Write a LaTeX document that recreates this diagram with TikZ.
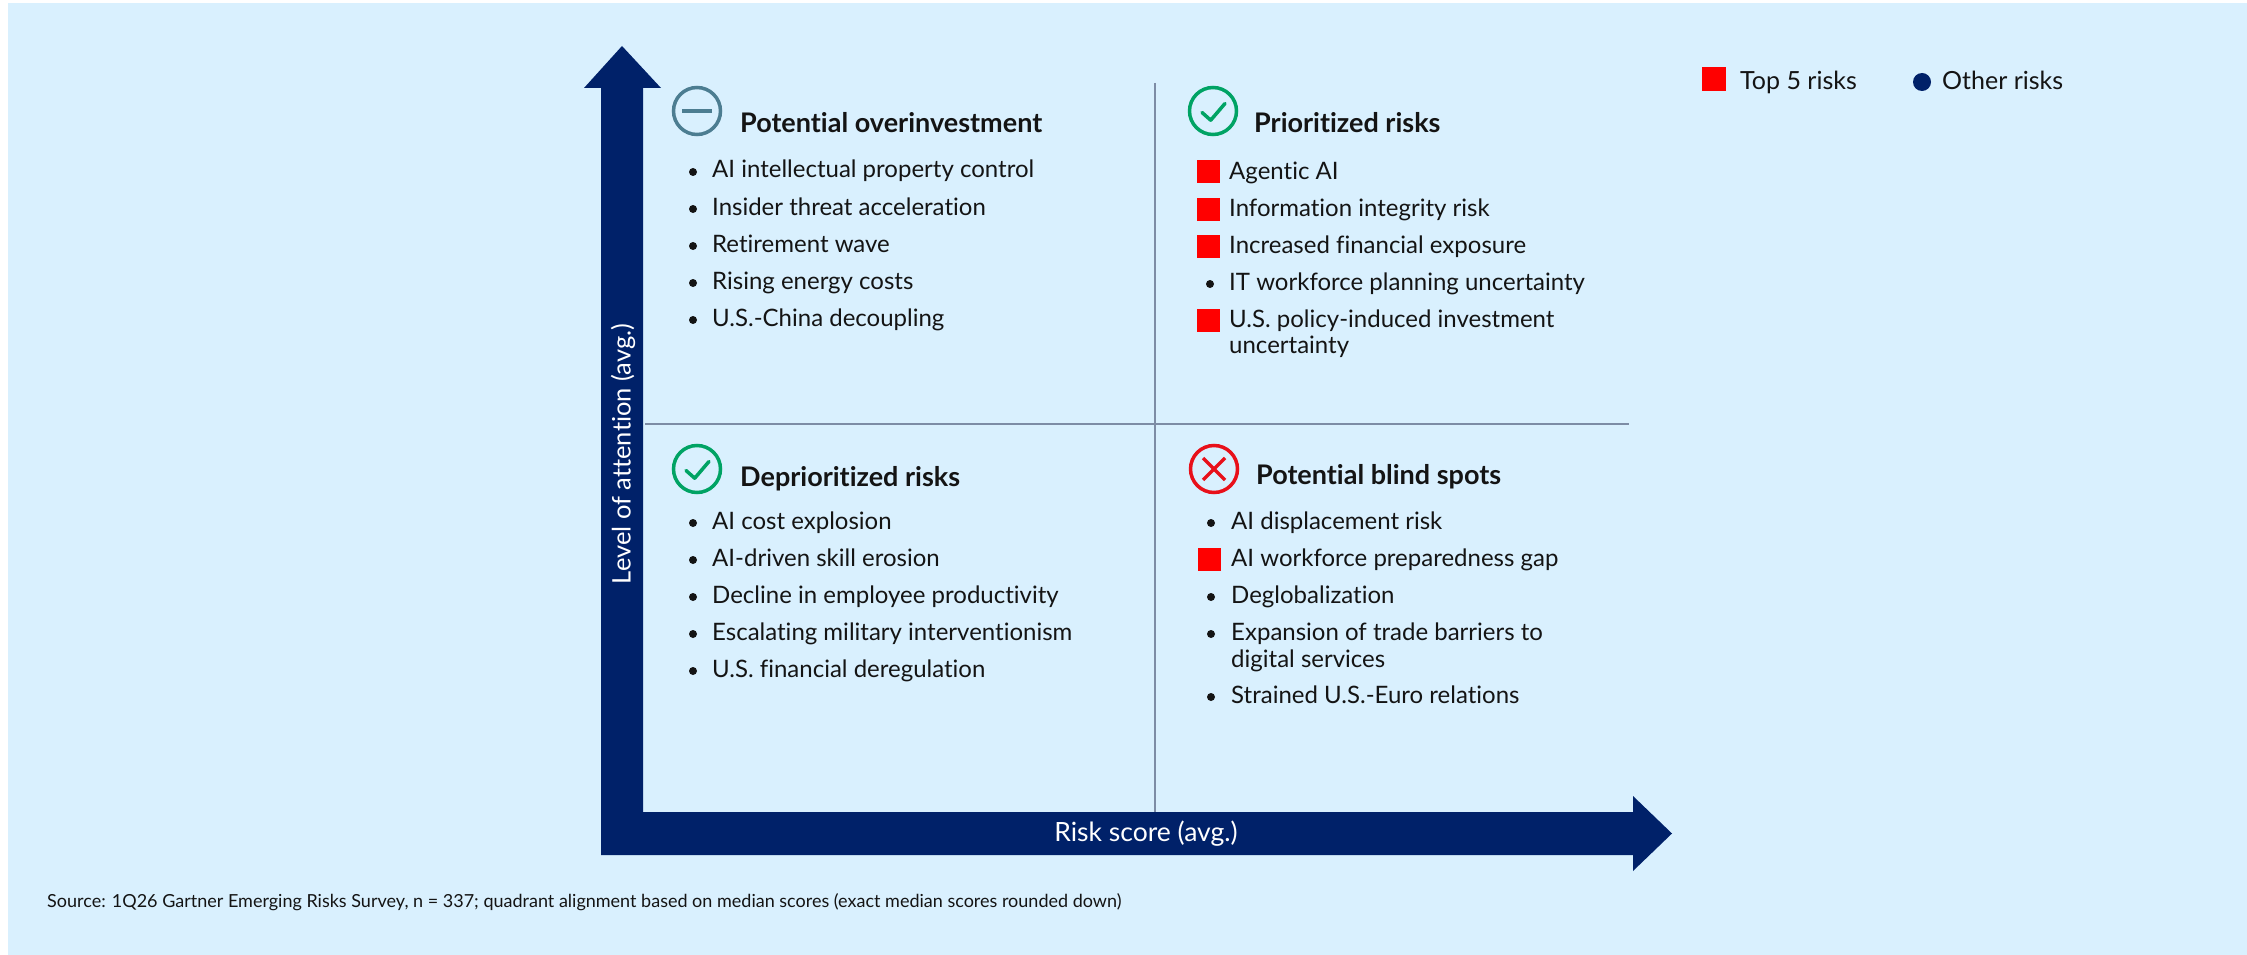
\documentclass[tikz,border=0pt]{standalone}
\usepackage{fontspec}
\setmainfont{Lato}[Ligatures=CommonOff]
\definecolor{bgc}{RGB}{217,240,254}
\definecolor{navy}{RGB}{0,33,105}
\definecolor{topred}{RGB}{255,0,0}
\definecolor{xred}{RGB}{232,16,26}
\definecolor{okgreen}{RGB}{0,163,100}
\definecolor{teal}{RGB}{76,125,145}
\definecolor{gridc}{RGB}{125,140,165}
\definecolor{txtc}{RGB}{20,20,20}
\tikzset{
  itemtxt/.style={anchor=base west, inner sep=0pt, text=txtc, font=\fontsize{24}{26}\selectfont},
  headtxt/.style={anchor=base west, inner sep=0pt, text=txtc, font=\fontsize{27}{30}\selectfont\bfseries},
  bulletdot/.style={circle, fill=txtc, inner sep=0pt, minimum size=8pt},
  topsq/.style={fill=topred, inner sep=0pt, minimum size=23pt},
  iconring/.style={circle, draw, line width=3.5pt, inner sep=0pt, minimum size=47pt},
  axislab/.style={text=white, inner sep=0pt, font=\fontsize{25.5}{30}\selectfont},
  gridline/.style={draw=gridc, line width=2.5pt},
}
\begin{document}
\begin{tikzpicture}[x=1pt,y=-1pt]
\useasboundingbox (0,0) rectangle (2247,955);
\fill[white] (0,0) rectangle (2247,955);
\fill[bgc] (8,3) rectangle (2247,955);

% quadrant lines
\coordinate (vtop) at (1155,83);
\coordinate (vbot) at (1155,812);
\coordinate (hl) at (645,424);
\coordinate (hr) at (1629,424);
\draw[gridline] (vtop) -- (vbot);
\draw[gridline] (hl) -- (hr);

% axes (L-shaped double arrow)
\fill[navy] (601,855) -- (601,88) -- (584,88) -- (622,46) -- (661,88) -- (643,88)
  -- (643,812) -- (1633,812) -- (1633,796) -- (1672,833.5) -- (1633,871) -- (1633,855) -- cycle;
\node[axislab, rotate=90] (ylab) at (623,454) {Level of attention (avg.)};
\node[axislab, font=\fontsize{26.5}{30}\selectfont] (xlab) at (1146,834) {Risk score (avg.)};

% legend
\node[topsq, minimum size=24pt] (lsq) at (1714,79) {};
\node[anchor=base west, inner sep=0pt, text=txtc, font=\fontsize{25}{30}\selectfont] (ltop) at (1740,90) {Top 5 risks};
\node[circle, fill=navy, inner sep=0pt, minimum size=18pt] (ldot) at (1922,82) {};
\node[anchor=base west, inner sep=0pt, text=txtc, font=\fontsize{25}{30}\selectfont] (loth) at (1942,90) {Other risks};

% ---- Top-left: Potential overinvestment
\node[iconring, draw=teal] (ic1) at (697,111) {};
\draw[teal, line width=4pt] (ic1.center) ++(-15,0) -- ++(30,0);
\node[headtxt] (h1) at (740,133) {Potential overinvestment};
\node[bulletdot] (b11) at (693,172) {}; \node[itemtxt] (t11) at (712,178) {AI intellectual property control};
\node[bulletdot] (b12) at (693,209) {}; \node[itemtxt] (t12) at (712,215) {Insider threat acceleration};
\node[bulletdot] (b13) at (693,246) {}; \node[itemtxt] (t13) at (712,252) {Retirement wave};
\node[bulletdot] (b14) at (693,283) {}; \node[itemtxt] (t14) at (712,289) {Rising energy costs};
\node[bulletdot] (b15) at (693,320) {}; \node[itemtxt] (t15) at (712,326) {U.S.-China decoupling};

% ---- Top-right: Prioritized risks
\node[iconring, draw=okgreen] (ic2) at (1213,111) {};
\draw[okgreen, line width=3.5pt, line cap=round, line join=round] (ic2.center) ++(-11,1.5) -- ++(8.7,7.7) -- ++(14.3,-16.7);
\node[headtxt] (h2) at (1254,133) {Prioritized risks};
\node[topsq] (s21) at (1208,172) {}; \node[itemtxt] (t21) at (1229,179) {Agentic AI};
\node[topsq] (s22) at (1208,209) {}; \node[itemtxt] (t22) at (1229,216) {Information integrity risk};
\node[topsq] (s23) at (1208,246) {}; \node[itemtxt] (t23) at (1229,253) {Increased financial exposure};
\node[bulletdot] (b24) at (1210,284) {}; \node[itemtxt] (t24) at (1229,290) {IT workforce planning uncertainty};
\node[topsq] (s25) at (1208,320) {}; \node[itemtxt] (t25) at (1229,327) {U.S. policy-induced investment};
\node[itemtxt] (t25b) at (1229,353) {uncertainty};

% ---- Bottom-left: Deprioritized risks
\node[iconring, draw=okgreen] (ic3) at (697,469) {};
\draw[okgreen, line width=3.5pt, line cap=round, line join=round] (ic3.center) ++(-11,1.5) -- ++(8.7,7.7) -- ++(14.3,-16.7);
\node[headtxt] (h3) at (740,486) {Deprioritized risks};
\node[bulletdot] (b31) at (693,523) {}; \node[itemtxt] (t31) at (712,529) {AI cost explosion};
\node[bulletdot] (b32) at (693,560) {}; \node[itemtxt] (t32) at (712,566) {AI-driven skill erosion};
\node[bulletdot] (b33) at (693,597) {}; \node[itemtxt] (t33) at (712,603) {Decline in employee productivity};
\node[bulletdot] (b34) at (693,634) {}; \node[itemtxt] (t34) at (712,640) {Escalating military interventionism};
\node[bulletdot] (b35) at (693,671) {}; \node[itemtxt] (t35) at (712,677) {U.S. financial deregulation};

% ---- Bottom-right: Potential blind spots
\node[iconring, draw=xred] (ic4) at (1214,469) {};
\draw[xred, line width=3.5pt] (ic4.center) ++(-11,-11) -- ++(22,22);
\draw[xred, line width=3.5pt] (ic4.center) ++(-11,11) -- ++(22,-22);
\node[headtxt] (h4) at (1256,484) {Potential blind spots};
\node[bulletdot] (b41) at (1211,523) {}; \node[itemtxt] (t41) at (1231,529) {AI displacement risk};
\node[topsq] (s42) at (1209,559) {}; \node[itemtxt] (t42) at (1231,566) {AI workforce preparedness gap};
\node[bulletdot] (b43) at (1211,597) {}; \node[itemtxt] (t43) at (1231,603) {Deglobalization};
\node[bulletdot] (b44) at (1211,634) {}; \node[itemtxt] (t44) at (1231,640) {Expansion of trade barriers to};
\node[itemtxt] (t44b) at (1231,667) {digital services};
\node[bulletdot] (b45) at (1211,697) {}; \node[itemtxt] (t45) at (1231,703) {Strained U.S.-Euro relations};

% source
\node[anchor=base west, inner sep=0pt, text=txtc, font=\fontsize{18}{20}\selectfont] (src) at (47,907)
  {Source: 1Q26 Gartner Emerging Risks Survey, n = 337; quadrant alignment based on median scores (exact median scores rounded down)};
\end{tikzpicture}
\end{document}
